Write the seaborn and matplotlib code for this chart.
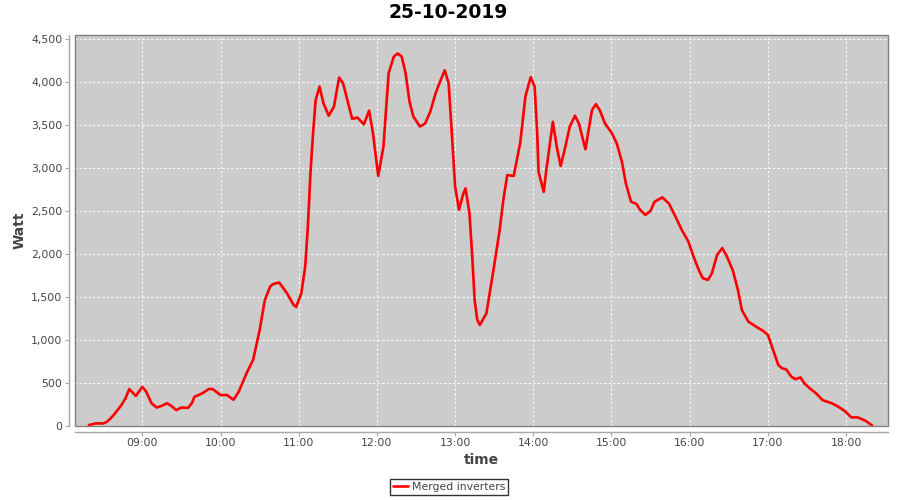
import matplotlib
matplotlib.use("Agg")
import matplotlib.pyplot as plt
import matplotlib.dates as mdates
from matplotlib.patches import Rectangle
from matplotlib.ticker import FuncFormatter, MultipleLocator
import seaborn as sns
import pandas as pd

title = "25-10-2019"
series_name = "Merged inverters"
x_label = "time"
y_label = "Watt"

times = [
    "08:19", "08:24", "08:30", "08:33", "08:37", "08:40", "08:44", "08:47", "08:50", "08:55",
    "09:00", "09:03", "09:07", "09:11", "09:15", "09:19", "09:23", "09:26", "09:30", "09:35",
    "09:38", "09:40", "09:46", "09:51", "09:54", "10:00", "10:05", "10:10", "10:14", "10:20",
    "10:25", "10:30", "10:34", "10:38", "10:40", "10:45", "10:51", "10:56", "10:58", "11:02",
    "11:05", "11:07", "11:09", "11:11", "11:13", "11:16", "11:19", "11:23", "11:27", "11:31",
    "11:34", "11:38", "11:41", "11:45", "11:50", "11:54", "11:57", "12:01", "12:05", "12:09",
    "12:13", "12:16", "12:19", "12:22", "12:25", "12:28", "12:33", "12:37", "12:41", "12:45",
    "12:48", "12:52", "12:55", "12:57", "13:00", "13:03", "13:06", "13:08", "13:11", "13:13",
    "13:15", "13:17", "13:19", "13:24", "13:29", "13:34", "13:37", "13:40", "13:45", "13:50",
    "13:54", "13:58", "14:01", "14:03", "14:04", "14:08", "14:10", "14:15", "14:18", "14:21",
    "14:24", "14:28", "14:32", "14:35", "14:40", "14:42", "14:45", "14:48", "14:51", "14:55",
    "15:00", "15:04", "15:08", "15:11", "15:15", "15:19", "15:22", "15:26", "15:30", "15:33",
    "15:39", "15:44", "15:49", "15:54", "15:59", "16:03", "16:07", "16:10", "16:14", "16:17",
    "16:21", "16:25", "16:28", "16:33", "16:37", "16:40", "16:45", "16:51", "16:56", "17:00",
    "17:04", "17:08", "17:11", "17:14", "17:18", "17:21", "17:25", "17:28", "17:32", "17:37",
    "17:42", "17:49", "17:54", "17:59", "18:04", "18:09", "18:15", "18:20",
]
watts = [
    10, 30, 30, 50, 110, 165, 245, 320, 430, 350,
    455, 400, 265, 215, 235, 265, 225, 185, 215, 210,
    265, 340, 380, 430, 430, 360, 360, 305, 400, 615,
    770, 1115, 1465, 1620, 1650, 1670, 1545, 1410, 1385, 1545,
    1855, 2320, 2940, 3405, 3795, 3950, 3755, 3610, 3715, 4055,
    3990, 3755, 3575, 3590, 3510, 3670, 3405, 2910, 3250, 4105,
    4300, 4335, 4300, 4105, 3775, 3600, 3485, 3520, 3660, 3870,
    3990, 4140, 3990, 3520, 2785, 2515, 2690, 2765, 2475, 2010,
    1465, 1235, 1175, 1310, 1775, 2260, 2630, 2920, 2910, 3300,
    3840, 4060, 3950, 3405, 2960, 2725, 2980, 3540, 3250, 3025,
    3210, 3485, 3610, 3520, 3220, 3405, 3675, 3745, 3675, 3520,
    3415, 3290, 3075, 2825, 2610, 2585, 2515, 2455, 2505, 2610,
    2660, 2590, 2440, 2280, 2145, 1970, 1815, 1720, 1700, 1775,
    1990, 2070, 1990, 1815, 1585, 1350, 1215, 1155, 1110, 1060,
    885, 710, 670, 660, 575, 545, 565, 495, 440, 380,
    300, 265, 225, 175, 100, 100, 60, 5,
]

day = "2019-10-25 "
df = pd.DataFrame({
    "time": pd.to_datetime([day + t for t in times]),
    "watt": watts,
})

sns.set_theme(style="white")
plt.rcParams["font.family"] = ["DejaVu Sans"]

fig = plt.figure(figsize=(9, 5), dpi=100)
ax = fig.add_axes([75 / 900, 1 - 426 / 500, (888 - 75) / 900, (426 - 35) / 500])
ax.set_facecolor("#cccccc")

sns.lineplot(data=df, x="time", y="watt", ax=ax, color="#ff0000",
             linewidth=1.9, label=series_name, legend=False, zorder=3)
for ln in ax.get_lines():
    ln.set_solid_joinstyle("round")
    ln.set_solid_capstyle("round")

ax.set_ylim(0, 4550)
ax.set_xlim(pd.Timestamp(day + "08:08:20"), pd.Timestamp(day + "18:32:10"))
ax.yaxis.set_major_locator(MultipleLocator(500))
ax.yaxis.set_major_formatter(FuncFormatter(lambda v, p: f"{int(v):,}"))
ax.xaxis.set_major_locator(mdates.HourLocator())
ax.xaxis.set_major_formatter(mdates.DateFormatter("%H:%M"))

ax.grid(True, color="white", linestyle=(0, (2, 2)), linewidth=0.8, alpha=0.9)
ax.set_axisbelow(True)

for s in ["top", "right"]:
    ax.spines[s].set_visible(False)
for s in ["left", "bottom"]:
    ax.spines[s].set_position(("outward", 4))
    ax.spines[s].set_color("#a8a8a8")
    ax.spines[s].set_linewidth(1.0)
ax.add_patch(Rectangle((0, 0), 1, 1, transform=ax.transAxes, fill=False,
                       edgecolor="#808080", linewidth=1.0, clip_on=False, zorder=4))

ax.tick_params(axis="both", which="major", length=3, width=0.8, color="#a8a8a8",
               labelsize=7.8, labelcolor="#444444", pad=2, bottom=True, left=True)

ax.set_xlabel(x_label, fontsize=10, fontweight="bold", color="#444444", labelpad=3)
ax.set_ylabel(y_label, fontsize=10, fontweight="bold", color="#444444", labelpad=3)

fig.text(448 / 900, 1 - 13 / 500, title, ha="center", va="center",
         fontsize=13.5, fontweight="bold", color="black")

handles, labels = ax.get_legend_handles_labels()
leg = fig.legend(handles, labels, loc="center", bbox_to_anchor=(449 / 900, 1 - 487 / 500),
                 frameon=True, fancybox=False, fontsize=7.8, handlelength=1.4,
                 handletextpad=0.3, borderpad=0.3, borderaxespad=0)
leg.get_frame().set_edgecolor("black")
leg.get_frame().set_linewidth(1.0)
for t in leg.get_texts():
    t.set_color("#444444")

fig.savefig("out.png", dpi=100)
